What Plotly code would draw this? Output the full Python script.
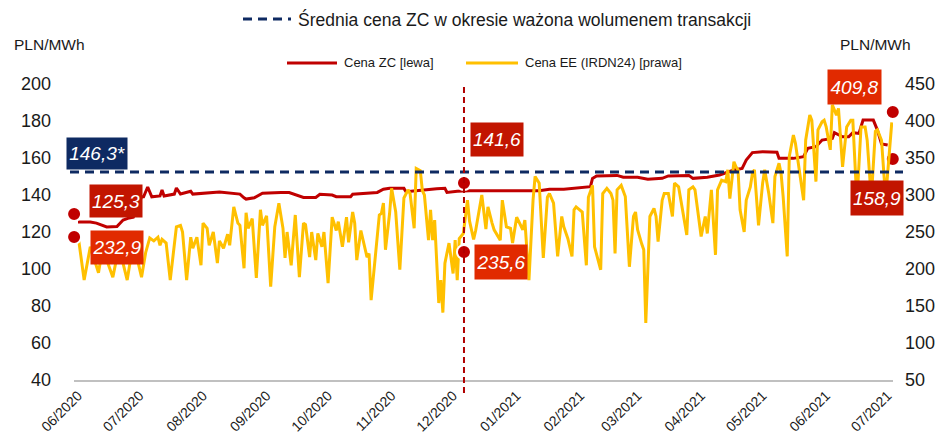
import pandas as pd
import plotly.graph_objects as go

# ---------------- data ----------------
start_date = "2020-06-01"

# Cena EE (IRDN24), PLN/MWh, right axis ; day offsets from start_date
ee_day = [0, 3, 6, 10, 12, 17, 20, 24, 27, 31, 33, 35, 37, 39, 40, 41, 43, 45, 48, 50,
          51, 53, 55, 56, 58, 60, 61, 63, 64, 66, 68, 69, 71, 73, 74, 76, 78, 79, 81, 82,
          83, 85, 87, 89, 90, 92, 94, 96, 98, 100, 101, 102, 104, 106, 108, 110, 111, 113, 114, 116,
          117, 119, 120, 122, 124, 126, 127, 129, 131, 132, 134, 135, 136, 138, 141, 142, 143, 146, 147, 148,
          149, 150, 152, 153, 155, 157, 159, 161, 162, 164, 165, 167, 168, 169, 171, 172, 173, 174, 176, 177,
          178, 179, 181, 183, 184, 185, 186, 188, 190, 191, 193, 194, 197, 199, 200, 202, 203, 206, 207, 209,
          211, 212, 214, 217, 218, 220, 222, 223, 225, 227, 229, 230, 232, 233, 234, 236, 237, 239, 241, 242,
          243, 246, 248, 249, 251, 252, 255, 256, 258, 260, 261, 262, 263, 265, 267, 269, 271, 272, 273, 275,
          276, 277, 279, 281, 282, 283, 285, 286, 288, 290, 291, 293, 295, 297, 298, 300, 301, 302, 304, 306,
          307, 309, 311, 312, 314, 316, 317, 318, 320, 321, 322, 323, 325, 326, 328, 329, 330, 332, 334, 335,
          337, 339, 340, 342, 343, 344, 346, 347, 349, 350, 351, 354, 355, 357, 358, 360, 361, 363, 364, 365,
          367, 368, 370, 371, 373, 375, 377, 378, 380, 382, 384, 385, 387, 389, 390, 392, 394, 397]
ee_val = [246, 185, 230, 195, 228, 189, 230, 185, 236, 189, 222, 242, 238, 243, 232, 240, 235, 185, 257, 259,
          250, 185, 243, 228, 243, 205, 262, 255, 232, 250, 208, 238, 228, 247, 232, 284, 262, 259, 201, 276,
          255, 268, 188, 280, 259, 272, 176, 257, 289, 255, 215, 250, 205, 273, 189, 262, 260, 216, 250, 212,
          248, 230, 250, 181, 270, 252, 264, 230, 270, 236, 277, 262, 212, 252, 216, 221, 158, 239, 273, 275,
          289, 226, 275, 309, 277, 199, 296, 307, 302, 255, 336, 333, 306, 300, 239, 280, 239, 266, 154, 185,
          141, 208, 235, 194, 239, 185, 241, 248, 293, 265, 240, 252, 300, 254, 284, 262, 253, 239, 293, 257,
          255, 235, 270, 253, 266, 185, 293, 325, 316, 215, 297, 302, 289, 253, 217, 271, 257, 241, 217, 280,
          284, 277, 205, 297, 313, 230, 199, 302, 309, 302, 293, 221, 307, 313, 298, 203, 271, 277, 253, 234,
          226, 127, 271, 282, 271, 237, 293, 302, 302, 271, 316, 311, 277, 246, 307, 311, 307, 284, 244, 271,
          248, 307, 219, 307, 320, 318, 334, 295, 345, 338, 334, 280, 250, 293, 311, 329, 334, 259, 316, 334,
          302, 262, 325, 343, 329, 298, 217, 352, 381, 370, 352, 293, 374, 408, 401, 318, 388, 399, 401, 392,
          361, 422, 408, 417, 338, 392, 401, 401, 290, 392, 392, 374, 295, 386, 388, 374, 295, 398]

# Cena ZC, PLN/MWh, left axis
zc_day = [0, 6, 9, 14, 19, 22, 25, 27, 31, 32, 34, 36, 40, 41, 42, 47, 48, 50, 55, 56,
          69, 74, 79, 81, 82, 86, 90, 99, 103, 110, 116, 118, 124, 126, 133, 134, 139, 142, 146, 149,
          152, 159, 160, 165, 168, 175, 179, 180, 185, 191, 225, 230, 237, 246, 250, 251, 253, 263, 266, 273,
          278, 285, 288, 298, 300, 307, 313, 320, 324, 326, 329, 334, 341, 342, 349, 354, 356, 360, 363, 368,
          369, 373, 376, 378, 381, 383, 388, 390, 392, 395]
zc_val = [125.4, 125.4, 124.8, 122.7, 123.0, 126.5, 127.6, 128.0, 139.0, 139.0, 144.3, 139.0, 139.5, 142.7, 139.5, 140.5, 143.8, 140.5, 142.0, 140.5,
          141.6, 141.0, 140.5, 138.5, 137.8, 138.5, 141.0, 141.4, 141.3, 138.7, 138.7, 140.4, 140.0, 139.1, 139.1, 140.4, 140.9, 141.4, 141.4, 143.1,
          143.6, 143.6, 141.8, 142.3, 142.7, 143.4, 143.6, 141.4, 142.0, 142.3, 142.3, 143.1, 143.1, 144.2, 144.5, 149.0, 150.3, 150.6, 149.6, 149.6,
          148.5, 149.0, 150.3, 150.6, 149.0, 149.6, 150.8, 153.5, 154.4, 158.9, 162.9, 163.4, 163.1, 159.8, 159.8, 160.7, 165.2, 166.1, 169.7, 170.6,
          173.7, 171.5, 171.5, 173.7, 173.3, 180.5, 180.5, 175.1, 167.6, 167.0]

# average ZC price line (as drawn) and its label
avg_level = 152.4
avg_label = "146,3*"

# marker dots
zc_dot_day = [-1.9, 188.3, 397.5]
zc_dot_val = [129.7, 146.5, 159.5]
ee_dot_day = [-1.9, 188.3, 397.5]
ee_dot_val = [243.3, 223.0, 412.3]

# value labels
lbl_zc = ["125,3", "141,6", "158,9"]
lbl_ee = ["232,9", "235,6", "409,8"]

vline_day = 188.3

month_ticks = pd.date_range("2020-06-01", periods=14, freq="MS")
month_labels = ["06/2020", "07/2020", "08/2020", "09/2020", "10/2020", "11/2020", "12/2020",
                "01/2021", "02/2021", "03/2021", "04/2021", "05/2021", "06/2021", "07/2021"]

# ---------------- styling ----------------
FONT = "Liberation Sans, Arial, sans-serif"
RED = "#c00000"
YEL = "#ffc000"
NAVY = "#0e2a62"
BOX_DARK = "#c21500"
BOX_BRIGHT = "#e12a00"
TXT = "#1a1a1a"

t0 = pd.Timestamp(start_date)
to_dt = lambda days: [t0 + pd.Timedelta(days=d) for d in days]

fig = go.Figure()
fig.add_trace(go.Scatter(x=to_dt(zc_day), y=zc_val, mode="lines", name="Cena ZC [lewa]",
                         line=dict(color=RED, width=3), yaxis="y", showlegend=False))
fig.add_trace(go.Scatter(x=to_dt(ee_day), y=ee_val, mode="lines", name="Cena EE (IRDN24) [prawa]",
                         line=dict(color=YEL, width=3), yaxis="y2", showlegend=False))
fig.add_trace(go.Scatter(x=to_dt(zc_dot_day), y=zc_dot_val, mode="markers", yaxis="y", showlegend=False,
                         marker=dict(size=14, color=RED, line=dict(color="white", width=2)), cliponaxis=False))
fig.add_trace(go.Scatter(x=to_dt(ee_dot_day), y=ee_dot_val, mode="markers", yaxis="y2", showlegend=False,
                         marker=dict(size=14, color=RED, line=dict(color="white", width=2)), cliponaxis=False))

W, H = 941, 443
L, R, T, B = 74, 48, 84, 63
pw, ph = W - L - R, H - T - B
px = lambda x: (x - L) / pw
py = lambda y: (H - B - y) / ph

shapes = [
    dict(type="line", xref="paper", yref="y", x0=px(70), x1=px(903), y0=avg_level, y1=avg_level,
         line=dict(color=NAVY, width=3, dash="9px,6px"), layer="above"),
    dict(type="line", xref="x", yref="paper", x0=t0 + pd.Timedelta(days=vline_day), x1=t0 + pd.Timedelta(days=vline_day),
         y0=py(393), y1=py(85), line=dict(color="#b00000", width=2, dash="6px,4px"), layer="above"),
    # legend samples
    dict(type="line", xref="paper", yref="paper", x0=px(243), x1=px(291), y0=py(19), y1=py(19),
         line=dict(color=NAVY, width=3, dash="9px,6px")),
    dict(type="line", xref="paper", yref="paper", x0=px(287), x1=px(337), y0=py(63), y1=py(63),
         line=dict(color=RED, width=3)),
    dict(type="line", xref="paper", yref="paper", x0=px(466), x1=px(518), y0=py(63), y1=py(63),
         line=dict(color=YEL, width=3)),
]

ann = [
    dict(text="Średnia cena ZC w okresie ważona wolumenem transakcji", x=px(296), y=py(19),
         xanchor="left", yanchor="middle", font=dict(family=FONT, size=17.5, color=TXT)),
    dict(text="Cena ZC [lewa]", x=px(342), y=py(63), xanchor="left", yanchor="middle",
         font=dict(family=FONT, size=13, color=TXT)),
    dict(text="Cena EE (IRDN24) [prawa]", x=px(523), y=py(63), xanchor="left", yanchor="middle",
         font=dict(family=FONT, size=13, color=TXT)),
    dict(text="PLN/MWh", x=px(12), y=py(45), xanchor="left", yanchor="middle",
         font=dict(family=FONT, size=15.5, color=TXT)),
    dict(text="PLN/MWh", x=px(838), y=py(45), xanchor="left", yanchor="middle",
         font=dict(family=FONT, size=15.5, color=TXT)),
]

def box(text, x0, x1, y0, y1, color):
    return dict(text="<i>%s</i>" % text, x=px((x0 + x1) / 2), y=py((y0 + y1) / 2),
                xanchor="center", yanchor="middle", width=x1 - x0, height=y1 - y0,
                bgcolor=color, borderpad=0, font=dict(family=FONT, size=19, color="white"))

ann += [
    box(avg_label, 67, 127, 138, 169, NAVY),
    box(lbl_zc[0], 90, 142, 185, 217, BOX_DARK),
    box(lbl_ee[0], 91, 143, 231, 264, BOX_BRIGHT),
    box(lbl_zc[1], 471, 523, 123, 156, BOX_DARK),
    box(lbl_ee[1], 475, 527, 245, 279, BOX_BRIGHT),
    box(lbl_ee[2], 828, 881, 70, 104, BOX_BRIGHT),
    box(lbl_zc[2], 851, 903, 181, 215, BOX_DARK),
]
for a in ann:
    a.setdefault("xref", "paper")
    a.setdefault("yref", "paper")
    a["showarrow"] = False

fig.update_layout(
    width=W, height=H, margin=dict(l=L, r=R, t=T, b=B, autoexpand=False),
    paper_bgcolor="white", plot_bgcolor="white",
    shapes=shapes, annotations=ann, showlegend=False,
    xaxis=dict(type="date", range=[t0 - pd.Timedelta(days=1.95), t0 + pd.Timedelta(days=397.6)],
               tickvals=list(month_ticks), ticktext=month_labels, tickangle=-45, automargin=False,
               showgrid=False, zeroline=False, showline=True, linecolor="#c0c0c0", linewidth=2,
               ticks="", tickfont=dict(family=FONT, size=14, color=TXT)),
    yaxis=dict(range=[40, 200], dtick=20, showgrid=False, zeroline=False, showline=False, automargin=False,
               ticks="", tickfont=dict(family=FONT, size=18, color=TXT), ticklabelstandoff=22),
    yaxis2=dict(range=[50, 450], dtick=50, overlaying="y", side="right", showgrid=False, automargin=False,
                zeroline=False, showline=False, ticks="",
                tickfont=dict(family=FONT, size=18, color=TXT), ticklabelstandoff=11),
)

fig.write_html("out.html", config={"displayModeBar": False},
               post_script="document.body.style.margin='0px';document.body.style.overflow='hidden';")
